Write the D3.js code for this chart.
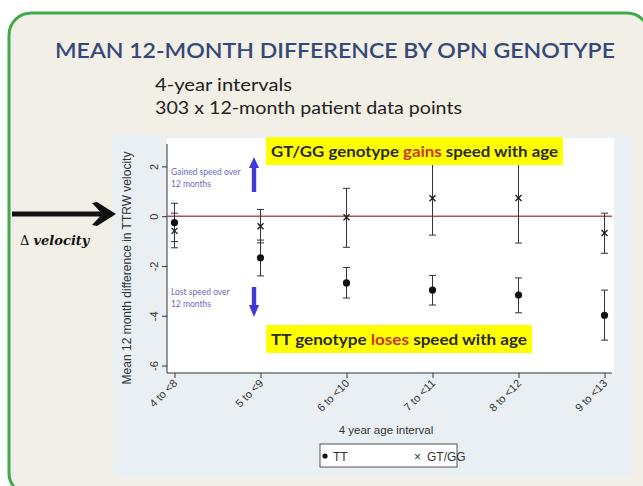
<!DOCTYPE html>
<html><head><meta charset="utf-8">
<script src="https://cdn.jsdelivr.net/npm/d3@7"></script>
<style>
html,body{margin:0;padding:0;background:#fff;}
svg{display:block;}
</style></head>
<body>
<svg id="c" width="643" height="486"></svg>
<script>
// ---- data ----
const categories = ["4 to <8","5 to <9","6 to <10","7 to <11","8 to <12","9 to <13"];
const ttMean  = [-0.26, -1.67, -2.68, -2.97, -3.17, -3.98];
const ttLow   = [-1.02, -2.40, -3.29, -3.57, -3.88, -4.98];
const ttHigh  = [ 0.52, -0.96, -2.06, -2.38, -2.48, -2.97];
const gtMean  = [-0.59, -0.40, -0.04,  0.72,  0.73, -0.68];
const gtLow   = [-1.27, -1.07, -1.25, -0.76, -1.08, -1.49];
const gtHigh  = [ 0.12,  0.27,  1.12,  2.20,  2.54,  0.12];
const yTicks  = [2, 0, -2, -4, -6];
const yTickLabels = ["2","0","-2","-4","-6"];
const seriesNames = ["TT","GT/GG"];

const svg = d3.select("#c");
// slide background
svg.append("rect").attr("x",0).attr("y",0).attr("width",643).attr("height",486).attr("fill","#ffffff");
svg.append("rect").attr("x",9).attr("y",13).attr("width",640).attr("height",482).attr("rx",22)
  .attr("fill","#f2efe6").attr("stroke","#3faa4b").attr("stroke-width",3);

// title
svg.append("text").attr("x",55).attr("y",58).attr("textLength",560).attr("lengthAdjust","spacingAndGlyphs")
  .attr("font-family","Lato, 'Open Sans', sans-serif").attr("font-weight",600).attr("font-size",21)
  .attr("fill","#34497a").text("MEAN 12-MONTH DIFFERENCE BY OPN GENOTYPE");
svg.append("text").attr("x",155).attr("y",91).attr("textLength",137).attr("lengthAdjust","spacingAndGlyphs")
  .attr("font-family","Lato, 'Open Sans', sans-serif").attr("font-size",17).attr("fill","#222")
  .text("4-year intervals");
svg.append("text").attr("x",155).attr("y",114).attr("textLength",307).attr("lengthAdjust","spacingAndGlyphs")
  .attr("font-family","Lato, 'Open Sans', sans-serif").attr("font-size",17).attr("fill","#222")
  .text("303 x 12-month patient data points");

// chart panel
svg.append("rect").attr("x",113).attr("y",134).attr("width",519).attr("height",343).attr("fill","#e9eff2");
const L=167, R=612, T=144, B=373;
svg.append("rect").attr("x",L).attr("y",138).attr("width",R-L+2).attr("height",B-138).attr("fill","#ffffff");

const x = d3.scalePoint().domain(categories).range([L,R]).padding(0.087);
const y = d3.scaleLinear().domain([-6.3,2.9]).range([B,T]);

const font = "'Liberation Sans', Arial, sans-serif";

// y axis
const yAxis = svg.append("g").attr("transform",`translate(${L},0)`)
  .call(d3.axisLeft(y).tickValues(yTicks).tickSize(5).tickFormat((d,i)=>yTickLabels[i]));
yAxis.select(".domain").attr("stroke","#333").attr("d",`M0,${B}V${T}`);
yAxis.selectAll(".tick line").attr("stroke","#333");
yAxis.selectAll(".tick text").attr("font-family",font).attr("font-size",11).attr("fill","#333")
  .attr("transform","rotate(-90)").attr("x",0).attr("y",-9).attr("dy","0").attr("text-anchor","middle");

// x axis
const xAxis = svg.append("g").attr("transform",`translate(0,${B})`)
  .call(d3.axisBottom(x).tickSize(5));
xAxis.select(".domain").attr("stroke","#333").attr("d",`M${L},0H${R}`);
xAxis.selectAll(".tick line").attr("stroke","#333");
xAxis.selectAll(".tick text").attr("font-family",font).attr("font-size",11).attr("fill","#333")
  .attr("text-anchor","end").attr("dy","0").attr("y",0)
  .attr("transform","translate(3,11) rotate(-45)");

// axis titles
svg.append("text").attr("transform",`translate(131,268) rotate(-90)`).attr("text-anchor","middle")
  .attr("font-family",font).attr("font-size",12).attr("fill","#333")
  .text("Mean 12 month difference in TTRW velocity");
svg.append("text").attr("x",386).attr("y",434).attr("text-anchor","middle")
  .attr("font-family",font).attr("font-size",11.5).attr("fill","#333").text("4 year age interval");

// zero line
svg.append("line").attr("x1",L).attr("x2",R).attr("y1",y(0)).attr("y2",y(0))
  .attr("stroke","#a65561").attr("stroke-width",1.6);

// error bars
function errBars(lo,hi){
  const g = svg.append("g").attr("stroke","#333").attr("stroke-width",1);
  categories.forEach((c,i)=>{
    const cx=x(c);
    g.append("line").attr("x1",cx).attr("x2",cx).attr("y1",y(lo[i])).attr("y2",y(hi[i]));
    g.append("line").attr("x1",cx-3.5).attr("x2",cx+3.5).attr("y1",y(lo[i])).attr("y2",y(lo[i]));
    g.append("line").attr("x1",cx-3.5).attr("x2",cx+3.5).attr("y1",y(hi[i])).attr("y2",y(hi[i]));
  });
}
errBars(gtLow,gtHigh);
errBars(ttLow,ttHigh);

// markers
svg.append("g").selectAll("circle").data(ttMean).join("circle")
  .attr("cx",(d,i)=>x(categories[i])).attr("cy",d=>y(d)).attr("r",3.6).attr("fill","#111");
const xm = svg.append("g").attr("stroke","#222").attr("stroke-width",1.4);
gtMean.forEach((d,i)=>{
  const cx=x(categories[i]), cy=y(d), s=3;
  xm.append("line").attr("x1",cx-s).attr("x2",cx+s).attr("y1",cy-s).attr("y2",cy+s);
  xm.append("line").attr("x1",cx-s).attr("x2",cx+s).attr("y1",cy+s).attr("y2",cy-s);
});

// yellow callouts
function callout(x0,y0,w,h,parts){
  svg.append("rect").attr("x",x0).attr("y",y0).attr("width",w).attr("height",h).attr("fill","#ffff00");
  const t = svg.append("text").attr("x",x0+5).attr("y",y0+h/2+5.5).attr("textLength",w-10).attr("lengthAdjust","spacingAndGlyphs")
    .attr("font-family","Lato, 'Open Sans', sans-serif").attr("font-weight",700).attr("font-size",16);
  parts.forEach(p=>t.append("tspan").attr("fill",p[1]).text(p[0]));
}
callout(266,137,297,28,[["GT/GG genotype ","#2a2a2a"],["gains","#c9361f"],[" speed with age","#2a2a2a"]]);
callout(266,325,266,28,[["TT genotype ","#2a2a2a"],["loses","#c9361f"],[" speed with age","#2a2a2a"]]);

// blue annotations
const annFont = "Lato, 'Open Sans', sans-serif";
[["Gained speed over",175],["12 months",187]].forEach(a=>
  svg.append("text").attr("x",171).attr("y",a[1]).attr("font-family",annFont).attr("font-size",8.5).attr("fill","#6d69c8").text(a[0]));
[["Lost speed over",295],["12 months",307]].forEach(a=>
  svg.append("text").attr("x",171).attr("y",a[1]).attr("font-family",annFont).attr("font-size",8.5).attr("fill","#6d69c8").text(a[0]));
const ax=254;
svg.append("path").attr("fill","#3d3ad8")
  .attr("d",`M${ax-2.2},192 V168 H${ax-5} L${ax},157 L${ax+5},168 H${ax+2.2} V192 Z`);
svg.append("path").attr("fill","#3d3ad8")
  .attr("d",`M${ax-2.2},287 V305 H${ax-5} L${ax},317 L${ax+5},305 H${ax+2.2} V287 Z`);

// left arrow
svg.append("path").attr("fill","#111")
  .attr("d","M12,211.5 H100 L92,203 L97,202 L116,214 L97,226 L92,225 L100,216.5 H12 Z");
const dv = svg.append("text").attr("x",20).attr("y",245).attr("font-family","'DejaVu Serif', 'Liberation Serif', serif").attr("font-size",13).attr("fill","#111");
dv.append("tspan").text("\u0394 ");
dv.append("tspan").attr("font-style","italic").attr("font-weight","bold").text("velocity");

// legend
svg.append("rect").attr("x",320).attr("y",444).attr("width",137).attr("height",23).attr("fill","#ffffff").attr("stroke","#555").attr("stroke-width",1);
svg.append("circle").attr("cx",325).attr("cy",456).attr("r",2.6).attr("fill","#111");
svg.append("text").attr("x",333).attr("y",460.5).attr("font-family",font).attr("font-size",12).attr("fill","#333").text(seriesNames[0]);
svg.append("text").attr("x",414).attr("y",460.5).attr("font-family",font).attr("font-size",12).attr("fill","#333").text("\u00d7");
svg.append("text").attr("x",427).attr("y",460.5).attr("font-family",font).attr("font-size",12).attr("fill","#333").text(seriesNames[1]);
</script>
</body></html>
